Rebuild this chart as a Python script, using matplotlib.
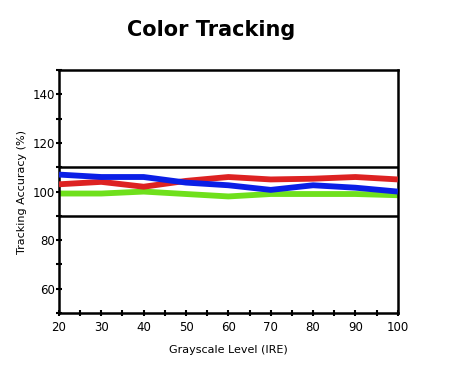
import matplotlib.pyplot as plt
import numpy as np

levels = [20, 30, 40, 50, 60, 70, 80, 90, 100]
red = [103, 104, 102, 104.4, 106, 105, 105.3, 106, 105]
green = [99.2, 99.2, 100, 99, 98, 99, 99, 99, 98.5]
blue = [107, 106, 106, 103.7, 102.6, 100.7, 102.6, 101.6, 100]

fig = plt.figure(figsize=(4.5, 3.79), dpi=100)
ax = fig.add_axes([0.131, 0.174, 0.753, 0.641])

ax.axhline(110, color='black', lw=1.8, zorder=1)
ax.axhline(90, color='black', lw=1.8, zorder=1)
ax.plot(levels, green, color='#6fe01c', lw=4.2, zorder=2, solid_capstyle='butt')
ax.plot(levels, red, color='#dd2222', lw=4.2, zorder=3, solid_capstyle='butt')
ax.plot(levels, blue, color='#0b1fe6', lw=4.2, zorder=4, solid_capstyle='butt')

ax.set_xlim(20, 100)
ax.set_ylim(50, 150)
ax.set_xticks(range(20, 101, 10))
ax.set_xticks(range(20, 101, 5), minor=True)
ax.set_yticks([60, 80, 100, 120, 140])
ax.set_yticks(range(50, 151, 10), minor=True)
ax.tick_params(which='both', direction='inout', width=1.5, length=4, labelsize=8.5)
ax.tick_params(axis='x', pad=4)
ax.tick_params(axis='y', pad=1)
for s in ax.spines.values():
    s.set_linewidth(1.8)

ax.set_xlabel('Grayscale Level (IRE)', fontsize=8, labelpad=8)
ax.set_ylabel('Tracking Accuracy (%)', fontsize=8)
fig.text(0.47, 0.92, 'Color Tracking', ha='center', va='center',
         fontsize=15, fontweight='bold')

fig.savefig('out.png', dpi=100)
